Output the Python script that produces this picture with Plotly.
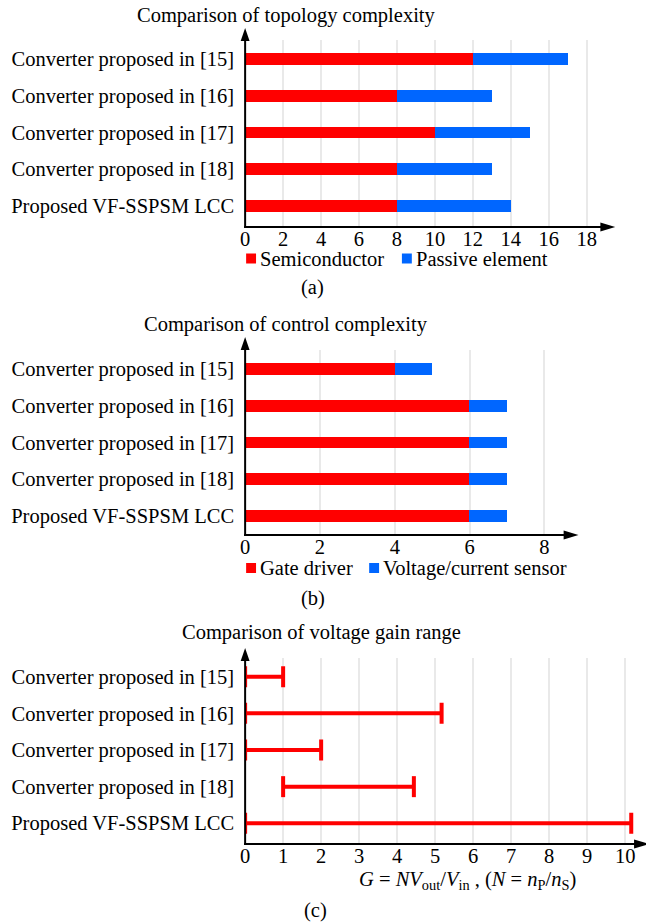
import plotly.graph_objects as go

# ---- data ----
converters = [
    "Converter proposed in [15]",
    "Converter proposed in [16]",
    "Converter proposed in [17]",
    "Converter proposed in [18]",
    "Proposed VF-SSPSM LCC",
]
semiconductor = [12, 8, 10, 8, 8]
passive_element = [5, 5, 5, 5, 6]
gate_driver = [4, 6, 6, 6, 6]
vi_sensor = [1, 1, 1, 1, 1]
gain_min = [0, 0, 0, 1, 0]
gain_max = [1, 5.17, 2, 4.44, 10.16]

ticks_a = [0, 2, 4, 6, 8, 10, 12, 14, 16, 18]
ticks_b = [0, 2, 4, 6, 8]
ticks_c = [0, 1, 2, 3, 4, 5, 6, 7, 8, 9, 10]

# ---- page geometry helpers (pixels -> paper) ----
W, H = 646, 922
FONT = "Liberation Serif, Times New Roman, serif"
FS = 20.5
RED = "#FF0000"
BLUE = "#0066FF"
GRID = "#e9e9e9"


def px(x):
    return x / W


def py(y):
    return 1 - y / H


fig = go.Figure()

# (a) topology complexity: stacked bars
fig.add_trace(go.Bar(y=converters, x=semiconductor, orientation="h", name="Semiconductor",
                     marker=dict(color=RED, line=dict(width=0)), width=0.32,
                     xaxis="x", yaxis="y", showlegend=False))
fig.add_trace(go.Bar(y=converters, x=passive_element, orientation="h", name="Passive element",
                     marker=dict(color=BLUE, line=dict(width=0)), width=0.32,
                     xaxis="x", yaxis="y", showlegend=False))

# (b) control complexity: stacked bars
fig.add_trace(go.Bar(y=converters, x=gate_driver, orientation="h", name="Gate driver",
                     marker=dict(color=RED, line=dict(width=0)), width=0.32,
                     xaxis="x2", yaxis="y2", showlegend=False))
fig.add_trace(go.Bar(y=converters, x=vi_sensor, orientation="h", name="Voltage/current sensor",
                     marker=dict(color=BLUE, line=dict(width=0)), width=0.32,
                     xaxis="x2", yaxis="y2", showlegend=False))

# (c) voltage gain range: capped horizontal segments
gx, gy = [], []
for name, lo, hi in zip(converters, gain_min, gain_max):
    gx += [lo, hi, None]
    gy += [name, name, None]
fig.add_trace(go.Scatter(x=gx, y=gy, mode="lines+markers", name="Voltage gain range",
                         line=dict(color=RED, width=4),
                         marker=dict(symbol="line-ns", size=15,
                                     line=dict(color=RED, width=4)),
                         xaxis="x3", yaxis="y3", showlegend=False, connectgaps=False))

# ---- axes ----
panels = [
    # x-suffix, left px, right px, top px, axis px, x-range max, ticks, first row px, row step
    ("", 242, 612, 40, 227, 370 / 19.125, ticks_a, 59.0, 36.7),
    ("2", 242, 578, 350, 535, 336 / 37.7, ticks_b, 369.0, 36.7),
    ("3", 242, 644, 658, 844, 402 / 38.3, ticks_c, 676.7, 36.65),
]

layout_axes = {}
for sfx, left, right, top, bottom, xmax, tv, row0, step in panels:
    r_top = (top - row0) / step
    r_bot = (bottom - row0) / step
    layout_axes["xaxis" + sfx] = dict(
        domain=[px(left), px(right)], range=[0, xmax], anchor="y" + sfx,
        tickmode="array", tickvals=tv, ticktext=[str(t) for t in tv],
        showgrid=True, gridcolor=GRID, gridwidth=1.5, zeroline=False,
        showline=False, ticks="", tickfont=dict(family=FONT, size=FS, color="black"),
        ticklabelstandoff=-3, fixedrange=True,
    )
    layout_axes["yaxis" + sfx] = dict(
        domain=[py(bottom), py(top)], range=[r_bot, r_top], anchor="x" + sfx,
        type="category", categoryorder="array", categoryarray=converters,
        showgrid=False, zeroline=False, showline=False, ticks="",
        tickfont=dict(family=FONT, size=FS, color="black"),
        ticklabelstandoff=10, fixedrange=True,
    )

# ---- axis lines with arrowheads ----
shapes = []


def arrow_axes(left, bottom, ytip, xtip):
    # vertical axis
    shapes.append(dict(type="line", xref="paper", yref="paper",
                       x0=px(left), x1=px(left), y0=py(bottom + 1), y1=py(ytip + 8),
                       line=dict(color="black", width=2)))
    shapes.append(dict(type="path", xref="paper", yref="paper",
                       path=f"M {px(left - 4.5)} {py(ytip + 13)} L {px(left)} {py(ytip)} "
                            f"L {px(left + 4.5)} {py(ytip + 13)} Z",
                       fillcolor="black", line=dict(color="black", width=0)))
    # horizontal axis
    shapes.append(dict(type="line", xref="paper", yref="paper",
                       x0=px(left - 1), x1=px(xtip - 8), y0=py(bottom), y1=py(bottom),
                       line=dict(color="black", width=2)))
    shapes.append(dict(type="path", xref="paper", yref="paper",
                       path=f"M {px(xtip - 15)} {py(bottom - 4.5)} L {px(xtip)} {py(bottom)} "
                            f"L {px(xtip - 15)} {py(bottom + 4.5)} Z",
                       fillcolor="black", line=dict(color="black", width=0)))


arrow_axes(242, 227, 28, 615)
arrow_axes(242, 535, 337, 578)
arrow_axes(242, 844, 648, 649)

# ---- titles, captions and legends ----
annotations = []


def text(x, y, s, size=FS, xanchor="center"):
    annotations.append(dict(x=px(x), y=py(y), xref="paper", yref="paper", text=s,
                            showarrow=False, xanchor=xanchor, yanchor="middle",
                            font=dict(family=FONT, size=size, color="black")))


def legend_item(xsq, ysq, color, label):
    shapes.append(dict(type="rect", xref="paper", yref="paper",
                       x0=px(xsq), x1=px(xsq + 10), y0=py(ysq + 5), y1=py(ysq - 5),
                       fillcolor=color, line=dict(width=0)))
    text(xsq + 12, ysq, label, xanchor="left")


text(283.5, 15, "Comparison of topology complexity")
text(283, 325, "Comparison of control complexity")
text(319, 632, "Comparison of voltage gain range")

legend_item(243, 258.5, RED, fig.data[0].name)
legend_item(400, 258.5, BLUE, fig.data[1].name)
legend_item(243, 568, RED, fig.data[2].name)
legend_item(367, 568, BLUE, fig.data[3].name)

text(466, 880, "<i>G</i> = <i>NV</i><sub>out</sub>/<i>V</i><sub>in</sub> , "
               "(<i>N</i> = <i>n</i><sub>P</sub>/<i>n</i><sub>S</sub>)")

text(310, 287, "(a)")
text(310, 598, "(b)")
text(313, 910, "(c)")

fig.update_layout(
    width=W, height=H,
    margin=dict(l=0, r=0, t=0, b=0),
    paper_bgcolor="white", plot_bgcolor="white",
    barmode="stack", bargap=0,
    font=dict(family=FONT, size=FS, color="black"),
    shapes=shapes, annotations=annotations,
    **layout_axes,
)

fig.write_html("out.html", config={"displayModeBar": False})
